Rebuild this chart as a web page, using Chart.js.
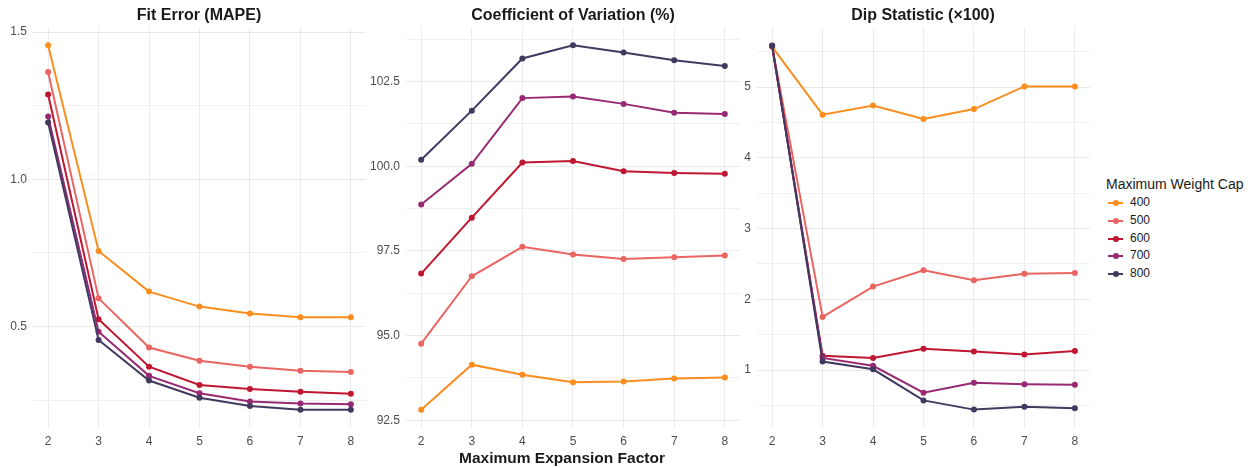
<!DOCTYPE html>
<html>
<head>
<meta charset="utf-8">
<script src="https://cdn.jsdelivr.net/npm/chart.js@4.4.1/dist/chart.umd.min.js"></script>
<style>
  html, body { margin:0; padding:0; background:#ffffff; }
  body { width:1251px; height:468px; position:relative; overflow:hidden; font-family:"Liberation Sans", Arial, sans-serif; }
  canvas { position:absolute; top:0; }
  .ptitle { position:absolute; top:6px; font-weight:bold; font-size:16px; color:#1a1a1a; text-align:center; white-space:nowrap; transform:translateX(-50%); }
  .xtitle { position:absolute; top:449px; font-weight:bold; font-size:15.5px; color:#1a1a1a; white-space:nowrap; transform:translateX(-50%); }
  #legend { position:absolute; left:1106px; top:175px; color:#1a1a1a; }
  #legend .lt { font-size:14px; line-height:18px; margin-bottom:1px; white-space:nowrap; }
  #legend .item { position:relative; height:17.8px; font-size:12px; }
  #legend .ln { position:absolute; left:2px; top:8px; width:15px; height:2px; }
  #legend .dt { position:absolute; left:6.5px; top:6px; width:6px; height:6px; border-radius:50%; }
  #legend .tx { position:absolute; left:24px; top:1px; }
</style>
</head>
<body>
<canvas id="c1" width="370" height="468" style="left:0px"></canvas>
<canvas id="c2" width="378" height="468" style="left:366px"></canvas>
<canvas id="c3" width="354" height="468" style="left:740px"></canvas>
<div class="ptitle" id="t1" style="left:199px">Fit Error (MAPE)</div>
<div class="ptitle" id="t2" style="left:573px">Coefficient of Variation (%)</div>
<div class="ptitle" id="t3" style="left:923px">Dip Statistic (×100)</div>
<div class="xtitle" style="left:562px">Maximum Expansion Factor</div>
<div id="legend"></div>
<script>
// ---- data ----
const expansion = [2, 3, 4, 5, 6, 7, 8];
const caps = ['400', '500', '600', '700', '800'];
const capColors = ['#F98E1F', '#EA6562', '#BF1631', '#982A73', '#41395F'];

const mape400 = [1.455, 0.757, 0.619, 0.568, 0.545, 0.532, 0.532];
const mape500 = [1.364, 0.596, 0.429, 0.384, 0.364, 0.350, 0.346];
const mape600 = [1.288, 0.525, 0.364, 0.302, 0.288, 0.279, 0.272];
const mape700 = [1.213, 0.483, 0.333, 0.274, 0.246, 0.239, 0.237];
const mape800 = [1.193, 0.455, 0.317, 0.259, 0.231, 0.218, 0.218];

const cv400 = [92.81, 94.14, 93.84, 93.62, 93.64, 93.73, 93.76];
const cv500 = [94.76, 96.75, 97.62, 97.39, 97.26, 97.31, 97.36];
const cv600 = [96.83, 98.48, 100.11, 100.15, 99.85, 99.80, 99.78];
const cv700 = [98.87, 100.07, 102.01, 102.06, 101.84, 101.58, 101.54];
const cv800 = [100.19, 101.64, 103.18, 103.57, 103.36, 103.13, 102.96];

const dip400 = [5.57, 4.61, 4.74, 4.55, 4.69, 5.01, 5.01];
const dip500 = [5.58, 1.75, 2.18, 2.41, 2.27, 2.36, 2.37];
const dip600 = [5.58, 1.20, 1.17, 1.30, 1.26, 1.22, 1.27];
const dip700 = [5.58, 1.17, 1.06, 0.68, 0.82, 0.80, 0.79];
const dip800 = [5.59, 1.12, 1.01, 0.57, 0.44, 0.48, 0.46];

const mapeTicks = [0.5, 1.0, 1.5];
const mapeMinor = [0.25, 0.75, 1.25];
const cvTicks = [92.5, 95.0, 97.5, 100.0, 102.5];
const cvMinor = [93.75, 96.25, 98.75, 101.25, 103.75];
const dipTicks = [1, 2, 3, 4, 5];
const dipMinor = [0.5, 1.5, 2.5, 3.5, 4.5, 5.5];

// ---- charts ----
function makeDatasets(series) {
  return series.map((vals, i) => ({
    label: caps[i],
    data: vals.map((v, j) => ({ x: expansion[j], y: v })),
    borderColor: capColors[i],
    backgroundColor: capColors[i],
    pointBackgroundColor: capColors[i],
    pointBorderWidth: 0,
    pointRadius: 3,
    borderWidth: 2,
    order: series.length - i,
    tension: 0
  }));
}

function makeChart(id, series, yMin, yMax, majors, minors, decimals, yWidth) {
  const allY = majors.concat(minors).sort((a, b) => a - b);
  new Chart(document.getElementById(id), {
    type: 'line',
    data: { datasets: makeDatasets(series) },
    options: {
      responsive: false,
      devicePixelRatio: 1,
      animation: false,
      layout: { padding: { top: 27, left: 0, right: 0, bottom: 0 } },
      plugins: { legend: { display: false }, title: { display: false }, tooltip: { enabled: false } },
      scales: {
        x: {
          type: 'linear', min: 1.7, max: 8.3,
          afterBuildTicks: s => { s.ticks = expansion.map(v => ({ value: v })); },
          afterFit: s => { s.height = 40; },
          grid: { color: '#ebebeb', lineWidth: 1, drawTicks: false },
          border: { display: false },
          ticks: { padding: 6, color: '#4d4d4d', font: { family: 'Liberation Sans', size: 12 }, callback: v => String(v), maxRotation: 0, autoSkip: false }
        },
        y: {
          type: 'linear', min: yMin, max: yMax,
          afterBuildTicks: s => { s.ticks = allY.map(v => ({ value: v })); },
          afterFit: s => { s.width = yWidth; },
          grid: { color: ctx => (majors.includes(ctx.tick && ctx.tick.value) ? '#e9e9e9' : '#f1f1f1'), lineWidth: 1, drawTicks: false },
          border: { display: false },
          ticks: { padding: 6, color: '#4d4d4d', font: { family: 'Liberation Sans', size: 12 }, autoSkip: false,
            callback: v => (majors.includes(v) ? v.toFixed(decimals) : '') }
        }
      }
    }
  });
}

makeChart('c1', [mape400, mape500, mape600, mape700, mape800], 0.156, 1.517, mapeTicks, mapeMinor, 1, 33);
makeChart('c2', [cv400, cv500, cv600, cv700, cv800], 92.27, 104.11, cvTicks, cvMinor, 1, 40);
makeChart('c3', [dip400, dip500, dip600, dip700, dip800], 0.18, 5.85, dipTicks, dipMinor, 0, 17);

// ---- legend ----
const lg = document.getElementById('legend');
let html = '<div class="lt">Maximum Weight Cap</div>';
caps.forEach((c, i) => {
  html += '<div class="item"><span class="ln" style="background:' + capColors[i] + '"></span>' +
          '<span class="dt" style="background:' + capColors[i] + '"></span><span class="tx">' + c + '</span></div>';
});
lg.innerHTML = html;
</script>
</body>
</html>
